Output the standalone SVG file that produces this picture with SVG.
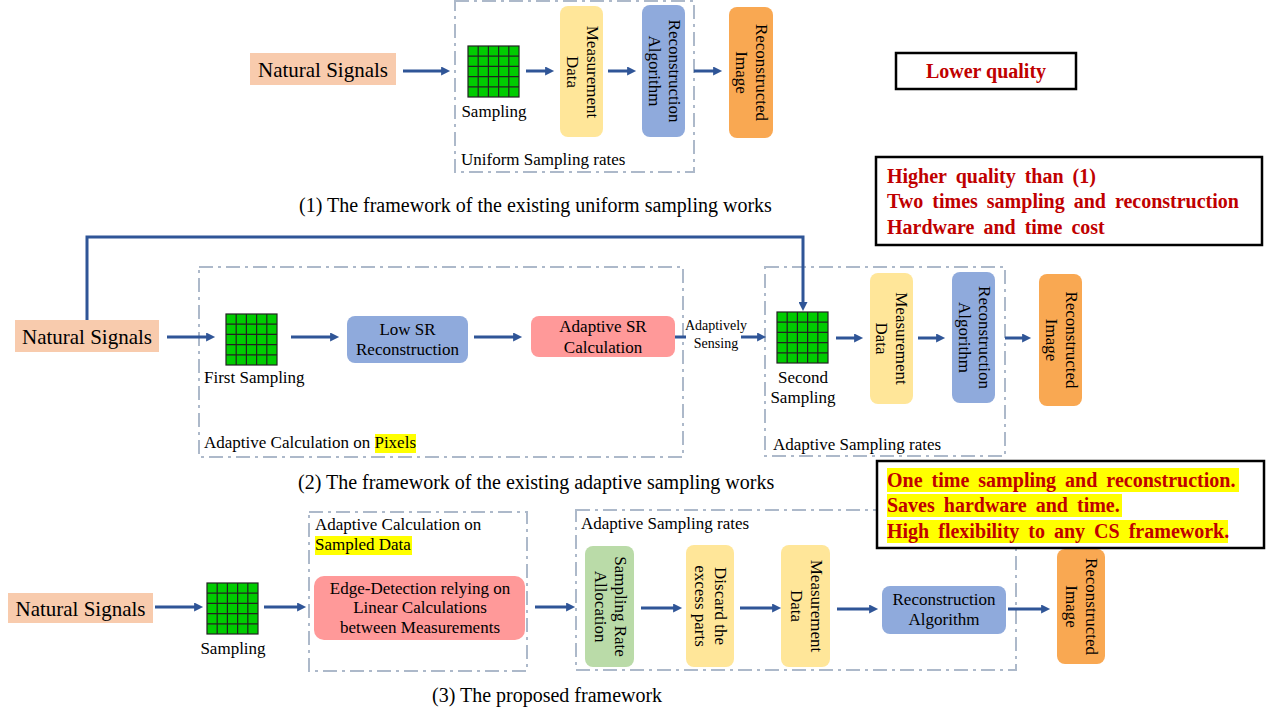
<svg xmlns="http://www.w3.org/2000/svg" xmlns:xlink="http://www.w3.org/1999/xlink" width="1280" height="720" viewBox="0 0 1280 720">
<style>
.t{font-family:"Liberation Serif","Times New Roman",serif;fill:#000}
.s17{font-size:17px}
.s14{font-size:14px}
.s20{font-size:20px}
.s21{font-size:21px}
.c{text-anchor:middle}
.b{font-family:"Liberation Serif","Times New Roman",serif;font-weight:bold;font-size:20px;fill:#C00000}
.ws{word-spacing:4px}
.dash{fill:none;stroke:#ADB9CA;stroke-width:2;stroke-dasharray:14 5 3 5}
.ns{fill:#F8CBAD}
.meas{fill:#FFE699}
.alg{fill:#8FAADC}
.img{fill:#F9A852}
.pink{fill:#FF9999}
.green{fill:#BADBA8}
.conn{fill:none;stroke:#2F5597;stroke-width:3}
.note{fill:#fff;stroke:#000;stroke-width:2.5}
.hl{fill:#FFFF00}
</style>
<defs>
<marker id="ah" viewBox="0 0 10 10" refX="1" refY="5" markerWidth="10" markerHeight="9" markerUnits="userSpaceOnUse" orient="auto">
<path d="M0,0 L10,5 L0,10 z" fill="#2F5597"/>
</marker>
<g id="grid">
<rect x="0" y="0" width="51" height="51" fill="#00CC00" stroke="#222" stroke-width="1.2"/>
<path d="M10.2,0V51M20.4,0V51M30.6,0V51M40.8,0V51M0,10.2H51M0,20.4H51M0,30.6H51M0,40.8H51" stroke="#222" stroke-width="1.2"/>
</g>
</defs>
<rect width="1280" height="720" fill="#fff"/>

<!-- containers -->
<g id="containers">
<rect class="dash" x="455" y="1" width="239" height="171"/>
<rect class="dash" x="199" y="267" width="484" height="190"/>
<rect class="dash" x="765" y="267" width="240" height="189"/>
<rect class="dash" x="309" y="512" width="218" height="159"/>
<rect class="dash" x="576" y="510" width="440" height="160"/>
</g>

<!-- connectors -->
<g id="connectors">
<path class="conn" marker-end="url(#ah)" d="M403,71H442"/>
<path class="conn" marker-end="url(#ah)" d="M526,71H546"/>
<path class="conn" marker-end="url(#ah)" d="M608,71H628"/>
<path class="conn" marker-end="url(#ah)" d="M694,71H714"/>

<path class="conn" marker-end="url(#ah)" d="M167,337H207"/>
<path class="conn" marker-end="url(#ah)" d="M291,337H331"/>
<path class="conn" marker-end="url(#ah)" d="M474,337H514"/>
<path class="conn" marker-end="url(#ah)" d="M675,337H758"/>
<path class="conn" marker-end="url(#ah)" d="M836,338H855"/>
<path class="conn" marker-end="url(#ah)" d="M918,338H937"/>
<path class="conn" marker-end="url(#ah)" d="M1005,338H1023"/>
<path class="conn" marker-end="url(#ah)" d="M87,320V237H803V303"/>

<path class="conn" marker-end="url(#ah)" d="M155,607H195"/>
<path class="conn" marker-end="url(#ah)" d="M264,607H298"/>
<path class="conn" marker-end="url(#ah)" d="M535,607H567"/>
<path class="conn" marker-end="url(#ah)" d="M641,608H674"/>
<path class="conn" marker-end="url(#ah)" d="M740,608H773"/>
<path class="conn" marker-end="url(#ah)" d="M837,609H870"/>
<path class="conn" marker-end="url(#ah)" d="M1008,609H1042"/>
</g>

<!-- ===== Section 1 ===== -->
<g id="ns1"><rect class="ns" x="250" y="53" width="146" height="32"/><text class="t s21 c" x="323" y="77">Natural Signals</text></g>
<g id="samp1"><use xlink:href="#grid" x="468" y="46"/><text class="t s17 c" x="494" y="117">Sampling</text></g>
<g id="meas1"><rect class="meas" x="560" y="6" width="43" height="131" rx="8"/>
<text class="t s17 c" transform="translate(581.5,72) rotate(90)"><tspan x="0" y="-5">Measurement</tspan><tspan x="0" y="15">Data</tspan></text></g>
<g id="alg1"><rect class="alg" x="642" y="5" width="43" height="132" rx="8"/>
<text class="t s17 c" transform="translate(663.5,71) rotate(90)"><tspan x="0" y="-5">Reconstruction</tspan><tspan x="0" y="15">Algorithm</tspan></text></g>
<g id="img1"><rect class="img" x="729" y="7" width="44" height="131" rx="8"/>
<text class="t s17 c" transform="translate(751,72.5) rotate(90)"><tspan x="0" y="-5">Reconstructed</tspan><tspan x="0" y="15">Image</tspan></text></g>
<text class="t s17" x="461" y="165">Uniform Sampling rates</text>
<text class="t s20" x="299" y="212">(1) The framework of the existing uniform sampling works</text>
<g id="note1"><rect class="note" x="896" y="53" width="180" height="36"/><text class="b c" x="986" y="78">Lower quality</text></g>

<!-- ===== Section 2 ===== -->
<g id="ns2"><rect class="ns" x="15" y="320" width="144" height="32"/><text class="t s21 c" x="87" y="344">Natural Signals</text></g>
<g id="samp2a"><use xlink:href="#grid" x="226" y="314"/><text class="t s17" x="204" y="383">First Sampling</text></g>
<g id="lowsr"><rect class="alg" x="347" y="316" width="121" height="47" rx="8"/>
<text class="t s17 c" x="407.5" y="335">Low SR</text><text class="t s17 c" x="407.5" y="355">Reconstruction</text></g>
<g id="adsr"><rect class="pink" x="531" y="316" width="144" height="41" rx="8"/>
<text class="t s17 c" x="603" y="332">Adaptive SR</text><text class="t s17 c" x="603" y="353">Calculation</text></g>
<g id="adsense"><rect x="686" y="319" width="55" height="33" fill="#fff"/>
<text class="t s14 c" x="716" y="330">Adaptively</text><text class="t s14 c" x="716" y="348">Sensing</text></g>
<rect class="hl" x="375" y="434" width="41" height="19"/>
<text class="t s17" x="204" y="448">Adaptive Calculation on <tspan>Pixels</tspan></text>
<g id="samp2b"><use xlink:href="#grid" x="777" y="312"/><text class="t s17 c" x="803" y="383">Second</text><text class="t s17 c" x="803" y="403">Sampling</text></g>
<g id="meas2"><rect class="meas" x="870" y="273" width="43" height="131" rx="8"/>
<text class="t s17 c" transform="translate(891,338.5) rotate(90)"><tspan x="0" y="-5">Measurement</tspan><tspan x="0" y="15">Data</tspan></text></g>
<g id="alg2"><rect class="alg" x="952" y="272" width="43" height="131" rx="8"/>
<text class="t s17 c" transform="translate(973.5,337.5) rotate(90)"><tspan x="0" y="-5">Reconstruction</tspan><tspan x="0" y="15">Algorithm</tspan></text></g>
<g id="img2"><rect class="img" x="1039" y="274" width="43" height="132" rx="8"/>
<text class="t s17 c" transform="translate(1060.5,340) rotate(90)"><tspan x="0" y="-5">Reconstructed</tspan><tspan x="0" y="15">Image</tspan></text></g>
<text class="t s17" x="773" y="450">Adaptive Sampling rates</text>
<text class="t s20" x="298" y="489">(2) The framework of the existing adaptive sampling works</text>
<g id="note2"><rect class="note" x="876" y="157" width="386" height="88"/>
<text class="b ws" x="887" y="183">Higher quality than (1)</text>
<text class="b ws" x="887" y="208">Two times sampling and reconstruction</text>
<text class="b ws" x="887" y="234">Hardware and time cost</text></g>

<!-- ===== Section 3 ===== -->
<g id="ns3"><rect class="ns" x="8" y="593" width="145" height="30"/><text class="t s21 c" x="80.5" y="616">Natural Signals</text></g>
<g id="samp3"><use xlink:href="#grid" x="207" y="583"/><text class="t s17 c" x="233" y="654">Sampling</text></g>
<rect class="hl" x="315" y="536" width="97" height="19"/>
<text class="t s17" x="315" y="530">Adaptive Calculation on</text>
<text class="t s17" x="315" y="550">Sampled Data</text>
<g id="edge"><rect class="pink" x="314" y="576" width="211" height="64" rx="10"/>
<text class="t s17 c" x="420" y="594">Edge-Detection relying on</text>
<text class="t s17 c" x="420" y="613">Linear Calculations</text>
<text class="t s17 c" x="420" y="633">between Measurements</text></g>
<text class="t s17" x="581" y="529">Adaptive Sampling rates</text>
<g id="sra"><rect class="green" x="585" y="546" width="49" height="121" rx="8"/>
<text class="t s17 c" transform="translate(609.5,606.5) rotate(90)"><tspan x="0" y="-5">Sampling Rate</tspan><tspan x="0" y="15">Allocation</tspan></text></g>
<g id="discard"><rect class="meas" x="686" y="545" width="48" height="122" rx="8"/>
<text class="t s17 c" transform="translate(710,606) rotate(90)"><tspan x="0" y="-5">Discard the</tspan><tspan x="0" y="15">excess parts</tspan></text></g>
<g id="meas3"><rect class="meas" x="781" y="545" width="49" height="122" rx="8"/>
<text class="t s17 c" transform="translate(805.5,606) rotate(90)"><tspan x="0" y="-5">Measurement</tspan><tspan x="0" y="15">Data</tspan></text></g>
<g id="alg3"><rect class="alg" x="882" y="586" width="124" height="48" rx="8"/>
<text class="t s17 c" x="944" y="605">Reconstruction</text><text class="t s17 c" x="944" y="625">Algorithm</text></g>
<g id="img3"><rect class="img" x="1057" y="549" width="48" height="115" rx="8"/>
<text class="t s17 c" transform="translate(1081,606.5) rotate(90)"><tspan x="0" y="-5">Reconstructed</tspan><tspan x="0" y="15">Image</tspan></text></g>
<text class="t s20" x="432" y="702">(3) The proposed framework</text>
<g id="note3"><rect class="note" x="877" y="461" width="387" height="87"/>
<rect class="hl" x="887" y="468" width="352" height="24"/>
<rect class="hl" x="887" y="494" width="235" height="23"/>
<rect class="hl" x="887" y="520" width="341" height="23"/>
<text class="b ws" x="887" y="487">One time sampling and reconstruction.</text>
<text class="b ws" x="887" y="512">Saves hardware and time.</text>
<text class="b ws" x="887" y="538">High flexibility to any CS framework.</text></g>
</svg>
